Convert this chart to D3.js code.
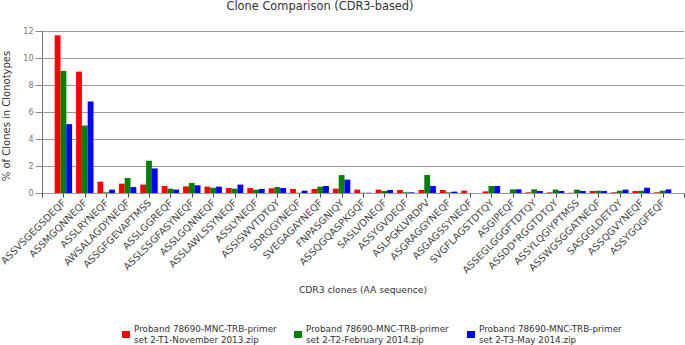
<!DOCTYPE html>
<html>
<head>
	<title></title>
	<style>
		body { margin: 0; background: #fff; }
		text { font-family: "DejaVu Sans", Verdana, sans-serif; }
	</style>
</head>
<body>
	<script src="https://cdn.jsdelivr.net/npm/d3@7"></script>
	<script>
		// data
		var clones = ["ASSVSGEGSDEQF", "ASSMGQNNEQF", "ASSLRYNEQF", "AWSALAGDYNEQF", "ASSGFGEVAPTMSS",
			"ASSLGGREQF", "ASSLSSGFASYNEQF", "ASSLGQNNEQF", "ASSLAWLSSYNEQF", "ASSLYNEQF",
			"ASSISWVTDTQY", "SDRQGYNEQF", "SVEGAGAYNEQF", "FNPASGNIQY", "ASSQGQASPKGQF",
			"SASLVDNEQF", "ASSYGVDEQF", "ASLPGKLVRDPV", "ASGRAGGYNEQF", "ASGAGSSYNEQF",
			"SVGFLAGSTDTQY", "ASGIPEQF", "ASSEGLGGGFTDTQY", "ASSDD*RGGTDTQY", "ASSYLQGIYPTMSS",
			"ASSWGSGGATNEQF", "SASGGLDETQY", "ASSQGVYNEQF", "ASSYGQGFEQF"];
		var t1 = [11.68, 8.99, 0.84, 0.69, 0.62, 0.52, 0.49, 0.47, 0.37, 0.37, 0.35, 0.30, 0.30, 0.32, 0.25,
			0.25, 0.22, 0.22, 0.22, 0.17, 0.12, 0, 0.05, 0.05, 0.02, 0.15, 0.05, 0.15, 0.05];
		var t2 = [9.04, 5.0, 0.05, 1.11, 2.39, 0.32, 0.74, 0.39, 0.32, 0.25, 0.44, 0.02, 0.47, 1.33, 0.02,
			0.15, 0.05, 1.33, 0.05, 0, 0.52, 0.27, 0.27, 0.25, 0.25, 0.17, 0.17, 0.17, 0.17];
		var t3 = [5.1, 6.78, 0.25, 0.44, 1.82, 0.25, 0.57, 0.47, 0.62, 0.30, 0.37, 0.17, 0.52, 0.99, 0.02,
			0.22, 0.05, 0.52, 0.10, 0, 0.52, 0.27, 0.15, 0.15, 0.15, 0.15, 0.25, 0.39, 0.27];
		var seriesNames = ["Proband 78690-MNC-TRB-primer|set 2-T1-November 2013.zip",
			"Proband 78690-MNC-TRB-primer|set 2-T2-February 2014.zip",
			"Proband 78690-MNC-TRB-primer|set 2-T3-May 2014.zip"];
		var colors = ["#ff0000", "#008000", "#0000ff"];
		var yTicks = [0, 2, 4, 6, 8, 10, 12];

		var width = 685;
		var height = 345;
		var margin = ({top: 31, right: 1, bottom: 152, left: 42});

		var series = [t1, t2, t3];
		var data = clones.map((c, i) => ({name: c, values: series.map(s => s[i])}));

		const svg = d3.select("body").append("svg")
			.attr("width", width)
			.attr("height", height);

		var x = d3.scalePoint()
			.domain(clones)
			.range([margin.left, width - margin.right])
			.padding(1);

		var xs = d3.scaleBand()
			.domain([0, 1, 2])
			.range([-8.7, 8.7]);

		var y = d3.scaleLinear()
			.domain([0, 12])
			.range([height - margin.bottom, margin.top]);

		// grid
		svg.append("g")
			.attr("class", "grid")
			.selectAll("line")
			.data(yTicks.slice(1))
			.join("line")
			.attr("x1", margin.left)
			.attr("x2", width - margin.right)
			.attr("y1", d => y(d) + 0.5)
			.attr("y2", d => y(d) + 0.5)
			.attr("stroke", "#9a9a9a")
			.attr("stroke-width", 1);

		// bars
		svg.append("g")
			.attr("class", "bars")
			.selectAll("g")
			.data(data)
			.join("g")
			.attr("transform", d => `translate(${x(d.name)},0)`)
			.selectAll("rect")
			.data(d => d.values)
			.join("rect")
			.attr("x", (d, i) => xs(i))
			.attr("width", xs.bandwidth())
			.attr("y", d => y(d))
			.attr("height", d => y(0) - y(d))
			.attr("fill", (d, i) => colors[i]);

		// y axis
		svg.append("g")
			.attr("class", "y-axis")
			.attr("transform", `translate(${margin.left + 0.5},0)`)
			.call(d3.axisLeft(y).tickValues(yTicks).tickSize(7).tickPadding(2).tickSizeOuter(0))
			.call(g => g.select(".domain").attr("stroke", "#777").attr("d", `M0,${y(12)}V${y(0) + 4}`))
			.call(g => g.selectAll(".tick line").attr("stroke", "#888"))
			.call(g => g.selectAll(".tick text")
				.attr("fill", "#777")
				.style("font-size", "8px")
				.style("font-family", "DejaVu Sans"));

		// x axis
		var xAxis = svg.append("g")
			.attr("class", "x-axis")
			.attr("transform", `translate(0,${y(0) + 0.5})`);
		xAxis.append("line")
			.attr("x1", margin.left)
			.attr("x2", width - margin.right)
			.attr("stroke", "#999");
		xAxis.selectAll(".tk")
			.data([margin.left].concat(clones.map(d => x(d)), [width - margin.right - 0.5]))
			.join("line")
			.attr("class", "tk")
			.attr("x1", d => Math.round(d) + 0.5)
			.attr("x2", d => Math.round(d) + 0.5)
			.attr("y1", 0)
			.attr("y2", 4)
			.attr("stroke", "#444");
		xAxis.selectAll("text")
			.data(clones)
			.join("text")
			.attr("transform", d => `translate(${x(d) + 3},10) rotate(-45)`)
			.attr("text-anchor", "end")
			.attr("fill", "#444")
			.style("font-size", "9.8px")
			.text(d => d);

		// titles
		svg.append("text")
			.attr("x", 320)
			.attr("y", 10)
			.attr("text-anchor", "middle")
			.attr("fill", "#333")
			.style("font-size", "11.4px")
			.text("Clone Comparison (CDR3-based)");

		svg.append("text")
			.attr("x", (margin.left + width - margin.right) / 2)
			.attr("y", 293)
			.attr("text-anchor", "middle")
			.attr("fill", "#333")
			.style("font-size", "9.2px")
			.text("CDR3 clones (AA sequence)");

		svg.append("text")
			.attr("transform", `translate(10,${(y(0) + y(12)) / 2 + 4}) rotate(-90)`)
			.attr("text-anchor", "middle")
			.attr("fill", "#333")
			.style("font-size", "10px")
			.text("% of Clones in Clonotypes");

		// legend
		var legend = svg.append("g")
			.attr("class", "legend")
			.selectAll("g")
			.data(seriesNames)
			.join("g")
			.attr("transform", (d, i) => `translate(${[122, 294, 467][i]},324)`);
		legend.append("rect")
			.attr("y", 7)
			.attr("width", 8)
			.attr("height", 7)
			.attr("fill", (d, i) => colors[i]);
		legend.append("text")
			.attr("x", 12)
			.attr("fill", "#333")
			.style("font-size", "8.8px")
			.selectAll("tspan")
			.data(d => d.split("|"))
			.join("tspan")
			.attr("x", 12)
			.attr("y", (d, i) => 8 + i * 10.5)
			.text(d => d);
	</script>
</body>
</html>
